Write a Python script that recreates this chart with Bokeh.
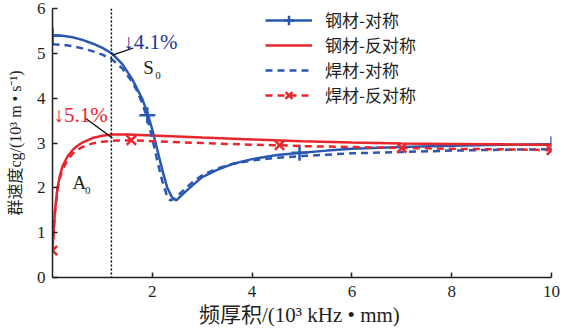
from bokeh.plotting import figure
from bokeh.models import (Range1d, FixedTicker, Span, Legend, LegendItem, Label)
from bokeh.embed import file_html
from bokeh.resources import INLINE

# ---------------- data ----------------
steel_sym_x = [0, 0.2, 0.4, 0.6, 0.8, 1.0, 1.2, 1.4, 1.6, 1.8, 1.9, 2.0, 2.1, 2.2, 2.3, 2.4, 2.48,
               2.6, 2.8, 3.0, 3.3, 3.6, 4.0, 4.5, 5.0, 5.5, 6.0, 7.0, 8.0, 9.0, 10.0]
steel_sym_y = [5.40, 5.39, 5.36, 5.30, 5.22, 5.12, 4.99, 4.76, 4.42, 3.98, 3.68, 3.30, 2.85, 2.40,
               2.00, 1.78, 1.72, 1.85, 2.05, 2.24, 2.40, 2.53, 2.64, 2.73, 2.78, 2.83, 2.87, 2.91,
               2.94, 2.96, 2.97]

weld_sym_x = [0, 0.2, 0.4, 0.6, 0.8, 1.0, 1.2, 1.4, 1.6, 1.7, 1.8, 1.9, 2.0, 2.1, 2.2, 2.3, 2.36,
              2.45, 2.6, 2.8, 3.0, 3.3, 3.6, 4.0, 4.5, 5.0, 5.5, 6.0, 7.0, 8.0, 9.0, 10.0]
weld_sym_y = [5.20, 5.19, 5.16, 5.11, 5.05, 4.97, 4.86, 4.66, 4.36, 4.15, 3.88, 3.55, 3.10, 2.60,
              2.15, 1.80, 1.72, 1.76, 1.92, 2.12, 2.28, 2.43, 2.53, 2.61, 2.67, 2.71, 2.74, 2.77,
              2.80, 2.83, 2.85, 2.86]

steel_anti_x = [0, 0.02, 0.05, 0.1, 0.15, 0.2, 0.3, 0.4, 0.5, 0.6, 0.8, 1.0, 1.2, 1.5, 2.0, 3.0,
                4.0, 5.0, 6.0, 7.0, 8.0, 9.0, 10.0]
steel_anti_y = [0.62, 1.00, 1.50, 2.00, 2.28, 2.48, 2.70, 2.84, 2.94, 3.01, 3.11, 3.16, 3.19, 3.19,
                3.17, 3.12, 3.08, 3.04, 3.01, 2.99, 2.98, 2.97, 2.96]

weld_anti_x = [0, 0.02, 0.05, 0.1, 0.15, 0.2, 0.3, 0.4, 0.5, 0.6, 0.8, 1.0, 1.2, 1.58, 2.0, 3.0,
               4.0, 4.55, 5.0, 6.0, 7.0, 8.0, 9.0, 10.0]
weld_anti_y = [0.60, 0.98, 1.45, 1.95, 2.22, 2.40, 2.62, 2.76, 2.85, 2.91, 2.99, 3.03, 3.05, 3.06,
               3.04, 3.00, 2.96, 2.95, 2.93, 2.91, 2.89, 2.87, 2.86, 2.84]

steel_sym_mx = [0, 1.9, 4.95, 10.0]
steel_sym_my = [5.40, 3.62, 2.78, 2.97]
weld_anti_mx = [0, 1.58, 4.55, 7.0, 10.0]
weld_anti_my = [0.60, 3.06, 2.95, 2.89, 2.84]

x_ticks = [2, 4, 6, 8, 10]
y_ticks = [0, 1, 2, 3, 4, 5, 6]
legend_labels = ["钢材-对称", "钢材-反对称", "焊材-对称", "焊材-反对称"]
cut_x = 1.18

# ---------------- styling ----------------
BLUE = "#2a58b0"
RED = "#e8262b"
NAVY = "#223593"
INK = "#231f20"
SERIF = "Liberation Serif, Noto Sans CJK SC"
CJK = "Noto Sans CJK SC"

p = figure(width=567, height=333, output_backend="svg", toolbar_location=None,
           x_range=Range1d(0, 10), y_range=Range1d(0, 6),
           min_border_left=52, min_border_right=16, min_border_top=8, min_border_bottom=56)
p.outline_line_color = None
p.grid.visible = False
p.background_fill_color = "white"

for ax in (p.xaxis[0], p.yaxis[0]):
    ax.axis_line_color = INK
    ax.axis_line_width = 1.5
    ax.major_tick_line_color = INK
    ax.major_tick_line_width = 1.5
    ax.major_tick_in = 5
    ax.major_tick_out = 0
    ax.minor_tick_line_color = None
    ax.major_label_text_font = SERIF
    ax.major_label_text_font_size = "17px"
    ax.major_label_text_color = INK
    ax.axis_label_text_font = SERIF
    ax.axis_label_text_font_style = "normal"
    ax.axis_label_text_color = INK

p.xaxis.ticker = FixedTicker(ticks=x_ticks)
p.yaxis.ticker = FixedTicker(ticks=y_ticks)
p.xaxis.major_label_standoff = 8
p.yaxis.major_label_standoff = 7
p.xaxis.axis_label = "频厚积/(10³  kHz • mm)"
p.yaxis.axis_label = "群速度cg/(10³ m • s⁻¹)"
p.xaxis.axis_label_text_font_size = "21px"
p.yaxis.axis_label_text_font_size = "16px"
p.xaxis.axis_label_standoff = 3
p.yaxis.axis_label_standoff = 10

p.add_layout(Span(location=cut_x, dimension="height", line_color="black",
                  line_width=1.5, line_dash="2 2"))

r1 = p.line(steel_sym_x, steel_sym_y, line_color=BLUE, line_width=2.5)
m1 = p.scatter(steel_sym_mx, steel_sym_my, marker="cross", size=16, line_color=BLUE,
               line_width=2.5)
r2 = p.line(steel_anti_x, steel_anti_y, line_color=RED, line_width=2.5)
r3 = p.line(weld_sym_x, weld_sym_y, line_color=BLUE, line_width=2.5, line_dash="7 5")
r4 = p.line(weld_anti_x, weld_anti_y, line_color=RED, line_width=2.5, line_dash="7 5")
m4 = p.scatter(weld_anti_mx, weld_anti_my, marker="x", size=13, line_color=RED,
               line_width=2.5)

legend = Legend(items=[
    LegendItem(label=legend_labels[0], renderers=[r1, m1]),
    LegendItem(label=legend_labels[1], renderers=[r2]),
    LegendItem(label=legend_labels[2], renderers=[r3]),
    LegendItem(label=legend_labels[3], renderers=[r4, m4]),
], location=(213, 170))
legend.border_line_color = None
legend.background_fill_alpha = 0
legend.label_text_font = CJK
legend.label_text_font_size = "17px"
legend.label_text_color = INK
legend.glyph_width = 47
legend.glyph_height = 24
legend.label_height = 24
legend.spacing = 0
legend.padding = 0
legend.margin = 0
legend.label_standoff = 13
p.add_layout(legend)

# leader lines
p.line([1.20, 1.62], [4.96, 5.12], line_color="black", line_width=1.2)
p.line([0.66, 1.20], [3.55, 3.11], line_color="black", line_width=1.2)

def lab(x, y, t, color, size="18px", font=SERIF, align="left", baseline="middle"):
    p.add_layout(Label(x=x, y=y, text=t, text_color=color, text_font=font,
                       text_font_size=size, text_align=align, text_baseline=baseline))

lab(1.42, 5.26, "↓4.1%", NAVY, size="21px")
lab(1.82, 4.68, "S", INK, size="19px")
lab(2.06, 4.50, "0", INK, size="11px")
lab(0.02, 3.62, "↓5.1%", RED, size="21px")
lab(0.40, 2.12, "A", INK, size="19px")
lab(0.65, 1.95, "0", INK, size="11px")

open("out.html", "w").write(file_html(p, INLINE))
